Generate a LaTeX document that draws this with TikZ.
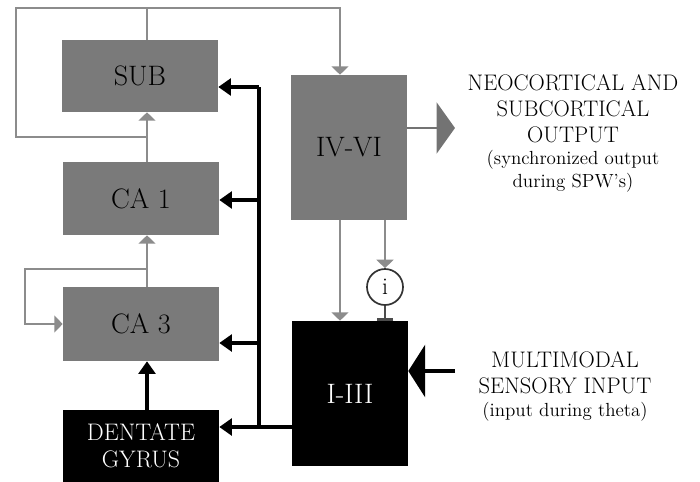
\documentclass[tikz,border=0pt]{standalone}
\usepackage{fontspec}
\usepackage{xcolor}
\usepackage{tikz}
\usetikzlibrary{arrows.meta,positioning}

\begin{document}
\begin{tikzpicture}[x=0.025cm,y=-0.025cm,
		gbox/.style={fill=black!52,minimum width=3.9cm,inner sep=0pt,font=\fontsize{20}{22}\selectfont},
		kbox/.style={fill=black,text=white,minimum width=2.9cm,minimum height=3.625cm,inner sep=0pt,font=\fontsize{20}{22}\selectfont},
		gline/.style={draw=black!45,line width=2pt},
		garrow/.style={gline,-{Triangle[length=6pt,width=12pt]}},
		bline/.style={draw=black,line width=3pt},
		barrow/.style={bline,-{Triangle[length=9pt,width=12pt]}},
		captxt/.style={align=center,inner sep=0pt,font=\fontsize{16}{18.4}\selectfont},
		subtxt/.style={align=center,inner sep=0pt,font=\fontsize{13.5}{16.3}\selectfont}]
		\useasboundingbox (0,0) rectangle (700,482);
		% boxes
		\node[gbox,minimum height=1.8cm] (sub) at (140,76) {SUB};
		\node[gbox,minimum height=1.825cm] (ca1) at (141,198.5) {CA 1};
		\node[gbox,minimum height=1.85cm] (ca3) at (141,324) {CA 3};
		\node[gbox,fill=black,text=white,minimum height=1.8cm,align=center,font=\fontsize{17}{19.5}\selectfont] (dg) at (141,446) {DENTATE\\GYRUS};
		\node[kbox,fill=black!52,text=black] (ivvi) at (349,147.5) {IV-VI};
		\node[kbox] (iiii) at (350,393.5) {I-III};
		\node[draw=black!80,line width=1.2pt,circle,fill=white,minimum size=0.9cm,inner sep=0pt,font=\fontsize{17}{19}\selectfont] (inh) at (385,287) {i};
		% grey pathways
		\coordinate (mid) at (147,137);
		\coordinate (tl) at (16,8);
		\coordinate (tr) at (340,8);
		\coordinate (j3) at (147,269);
		\coordinate (l3) at (25,0);
		\draw[garrow] (mid) -| (tl) -| (ivvi.north -| tr);
		\draw[gline] (sub.north -| mid) -- (tl -| mid);
		\draw[garrow] (ca1.north -| mid) -- (sub.south -| mid);
		\draw[garrow] (ca3.north -| mid) -- (ca1.south -| mid);
		\draw[garrow] (j3) -| (l3 |- ca3.west) -- (ca3.west);
		\draw[garrow] (ivvi.south -| tr) -- (iiii.north -| tr);
		\draw[garrow] (ivvi.south -| inh) -- (inh.north);
		\draw[draw=black!70,line width=2pt,-{Bar[width=12pt,line width=2pt]}] (inh.south) -- (inh.south |- iiii.north);
		% black pathways
		\coordinate (b1) at (259,87);
		\coordinate (b2) at (259,200);
		\coordinate (b3) at (259,343);
		\coordinate (b4) at (259,427);
		\draw[bline] (b4 -| iiii.west) -- (b4) -- (b1);
		\foreach \b/\t in {b1/sub,b2/ca1,b3/ca3,b4/dg}
			\draw[barrow] (\b) -- (\b -| \t.east);
		\draw[barrow] (dg.north -| mid) -- (ca3.south -| mid);
		% output and input
		\coordinate (outtip) at (455,128);
		\coordinate (intail) at (455,371);
		\draw[gline,draw=black!55,-{Triangle[length=13pt,width=36pt]}] (outtip -| ivvi.east) -- (outtip);
		\draw[bline,-{Triangle[length=12pt,width=37pt]}] (intail) -- (intail -| iiii.east);
		\node[captxt] (outtxt) at (573,109) {NEOCORTICAL AND\\SUBCORTICAL\\OUTPUT};
		\node[subtxt] (outsub) at (573,171) {(synchronized output\\during SPW's)};
		\node[captxt] (intxt) at (565,373) {MULTIMODAL\\SENSORY INPUT};
		\node[subtxt] (insub) at (565,412) {(input during theta)};
	\end{tikzpicture}
\end{document}
